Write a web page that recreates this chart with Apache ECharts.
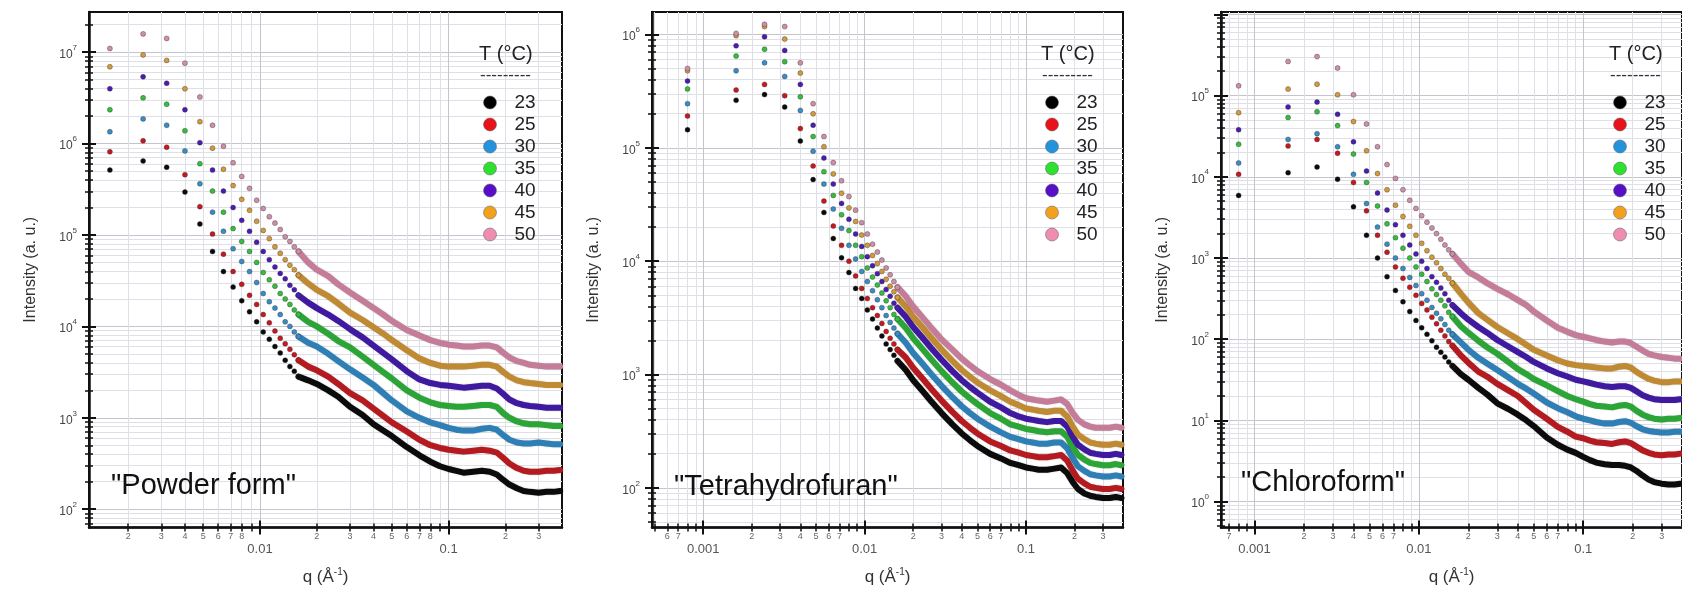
<!DOCTYPE html>
<html><head><meta charset="utf-8">
<script src="https://cdn.jsdelivr.net/npm/echarts@6/dist/echarts.min.js"></script>
<style>html,body{margin:0;padding:0;background:#fff}#c{width:1682px;height:591px}</style>
</head><body><div id="c"></div><script>
const FONT = '"Liberation Sans", Arial, Helvetica, sans-serif';
const temps = ['23','25','30','35','40','45','50'];
const legendColors = ['#000000','#e8121b','#2394dc','#2fe02f','#560fc6','#f2a11e','#ee8db0'];
const pointColors  = ['#0a0a0a','#c8171d','#3a8cc6','#34bd3e','#4a1bb5','#d39a3a','#cf8ea8'];
const bandColors   = ['#0b0b0b','#b41a1f','#2d7fb5','#2ba536','#3f199f','#c08a33','#c47c98'];

// q values (1/Å)
const qLow1  = [0.0016,0.0024,0.0032,0.0040,0.0048,0.0056,0.0064,0.0072,0.0080,0.0088,0.0096,0.0104,0.0112,0.0120,0.0128,0.0136,0.0144,0.0152,0.0160];
const qLow23 = [0.0008,0.0016,0.0024,0.0032,0.0040,0.0048,0.0056,0.0064,0.0072,0.0080,0.0088,0.0096,0.0104,0.0112,0.0120,0.0128,0.0136,0.0144,0.0152,0.0160];
const qBand  = [0.016,0.018,0.02,0.023,0.026,0.03,0.035,0.04,0.045,0.05,0.06,0.07,0.08,0.09,0.1,0.11,0.12,0.135,0.15,0.165,0.18,0.195,0.21,0.23,0.25,0.27,0.3,0.33,0.36,0.39];

// Intensities, stored as log10(I)
// Panel 1: powder form
const p1Low23 = [5.71,5.81,5.74,5.47,5.12,4.82,4.60,4.43,4.28,4.16,4.05,3.94,3.86,3.78,3.71,3.63,3.56,3.51,3.45];
const p1Low25 = [5.91,6.03,5.96,5.66,5.31,5.01,4.79,4.60,4.46,4.34,4.24,4.13,4.04,3.95,3.87,3.81,3.75,3.69,3.63];
const p1Low30 = [6.13,6.27,6.20,5.92,5.56,5.25,5.04,4.85,4.71,4.60,4.48,4.36,4.27,4.20,4.13,4.05,4.00,3.94,3.89];
const p1Low35 = [6.37,6.50,6.43,6.14,5.78,5.48,5.25,5.07,4.93,4.82,4.70,4.59,4.51,4.44,4.36,4.30,4.24,4.18,4.13];
const p1Low40 = [6.60,6.73,6.66,6.37,6.01,5.71,5.48,5.30,5.16,5.04,4.92,4.82,4.73,4.65,4.58,4.52,4.45,4.40,4.34];
const p1Low45 = [6.84,6.97,6.91,6.60,6.24,5.95,5.72,5.54,5.39,5.27,5.15,5.05,4.96,4.87,4.80,4.73,4.67,4.62,4.56];
const p1Low50 = [7.04,7.20,7.15,6.88,6.51,6.20,5.97,5.79,5.64,5.51,5.38,5.29,5.20,5.13,5.06,4.98,4.93,4.87,4.82];
const p1Band23 = [3.45,3.41,3.37,3.30,3.23,3.12,3.03,2.93,2.86,2.80,2.68,2.59,2.52,2.47,2.44,2.42,2.40,2.41,2.42,2.41,2.38,2.32,2.27,2.23,2.20,2.19,2.18,2.19,2.19,2.20];
const p1Band25 = [3.63,3.56,3.52,3.45,3.37,3.27,3.19,3.10,3.02,2.95,2.85,2.76,2.70,2.67,2.65,2.64,2.63,2.64,2.65,2.64,2.62,2.56,2.50,2.45,2.42,2.41,2.41,2.42,2.42,2.43];
const p1Band30 = [3.89,3.82,3.78,3.70,3.62,3.53,3.44,3.36,3.27,3.19,3.07,3.00,2.95,2.92,2.89,2.87,2.86,2.86,2.88,2.89,2.87,2.81,2.76,2.73,2.72,2.72,2.73,2.72,2.71,2.71];
const p1Band35 = [4.13,4.05,4.00,3.92,3.84,3.77,3.67,3.58,3.50,3.43,3.30,3.22,3.17,3.14,3.13,3.12,3.12,3.13,3.14,3.14,3.12,3.05,3.00,2.96,2.94,2.93,2.93,2.92,2.91,2.91];
const p1Band40 = [4.34,4.26,4.20,4.13,4.06,3.97,3.88,3.79,3.71,3.64,3.51,3.42,3.38,3.36,3.35,3.34,3.33,3.34,3.35,3.35,3.32,3.26,3.20,3.16,3.14,3.13,3.12,3.11,3.11,3.11];
const p1Band45 = [4.56,4.47,4.40,4.33,4.25,4.15,4.07,3.99,3.92,3.85,3.74,3.65,3.60,3.57,3.56,3.56,3.56,3.57,3.58,3.58,3.56,3.50,3.45,3.41,3.39,3.38,3.37,3.36,3.36,3.36];
const p1Band50 = [4.82,4.70,4.62,4.55,4.46,4.37,4.28,4.20,4.13,4.06,3.96,3.90,3.85,3.82,3.80,3.79,3.78,3.78,3.79,3.79,3.77,3.71,3.66,3.62,3.60,3.58,3.57,3.56,3.56,3.56];

// Panel 2: tetrahydrofuran
const p2Low23 = [5.16,5.42,5.47,5.36,5.06,4.72,4.43,4.20,4.03,3.90,3.76,3.67,3.57,3.49,3.41,3.34,3.27,3.22,3.17,3.12];
const p2Low25 = [5.28,5.51,5.56,5.46,5.17,4.84,4.53,4.31,4.14,4.00,3.87,3.76,3.67,3.59,3.52,3.45,3.38,3.32,3.27,3.22];
const p2Low30 = [5.39,5.68,5.75,5.63,5.33,4.97,4.68,4.46,4.29,4.14,4.02,3.91,3.82,3.74,3.66,3.59,3.52,3.46,3.41,3.36];
const p2Low35 = [5.52,5.81,5.87,5.76,5.45,5.10,4.79,4.58,4.41,4.27,4.14,4.04,3.94,3.86,3.79,3.72,3.65,3.59,3.53,3.49];
const p2Low40 = [5.59,5.90,5.98,5.86,5.56,5.20,4.91,4.68,4.51,4.37,4.24,4.13,4.04,3.96,3.89,3.82,3.75,3.69,3.63,3.59];
const p2Low45 = [5.68,5.99,6.07,5.96,5.66,5.30,5.01,4.77,4.60,4.47,4.35,4.23,4.14,4.05,3.98,3.91,3.84,3.78,3.73,3.68];
const p2Low50 = [5.70,6.01,6.09,6.07,5.75,5.39,5.10,4.87,4.71,4.57,4.45,4.34,4.24,4.15,4.08,4.01,3.94,3.88,3.82,3.77];
const p2Band23 = [3.12,3.04,2.95,2.85,2.76,2.66,2.56,2.48,2.42,2.37,2.30,2.26,2.22,2.20,2.18,2.17,2.16,2.16,2.17,2.18,2.13,2.05,1.99,1.95,1.93,1.92,1.91,1.91,1.92,1.91];
const p2Band25 = [3.22,3.15,3.06,2.96,2.87,2.77,2.67,2.59,2.53,2.48,2.41,2.37,2.33,2.31,2.29,2.28,2.27,2.27,2.28,2.29,2.24,2.15,2.08,2.04,2.01,2.00,1.99,1.99,2.00,1.99];
const p2Band30 = [3.36,3.28,3.19,3.09,3.00,2.90,2.80,2.72,2.66,2.61,2.54,2.49,2.45,2.43,2.41,2.40,2.39,2.39,2.40,2.40,2.35,2.26,2.19,2.15,2.12,2.11,2.10,2.10,2.11,2.10];
const p2Band35 = [3.49,3.41,3.32,3.22,3.13,3.03,2.93,2.85,2.79,2.74,2.66,2.61,2.56,2.54,2.52,2.51,2.50,2.49,2.50,2.50,2.45,2.36,2.29,2.25,2.22,2.21,2.20,2.20,2.21,2.20];
const p2Band40 = [3.59,3.51,3.42,3.32,3.23,3.13,3.03,2.95,2.89,2.84,2.76,2.71,2.66,2.63,2.61,2.60,2.59,2.58,2.59,2.59,2.54,2.45,2.38,2.34,2.31,2.30,2.29,2.29,2.30,2.29];
const p2Band45 = [3.68,3.60,3.51,3.41,3.32,3.22,3.12,3.04,2.98,2.93,2.86,2.81,2.76,2.73,2.70,2.69,2.68,2.67,2.68,2.68,2.63,2.54,2.47,2.43,2.40,2.39,2.38,2.38,2.39,2.38];
const p2Band50 = [3.77,3.69,3.60,3.50,3.41,3.31,3.22,3.14,3.08,3.03,2.96,2.91,2.86,2.82,2.79,2.78,2.77,2.76,2.77,2.78,2.74,2.66,2.60,2.56,2.54,2.53,2.53,2.53,2.54,2.53];

// Panel 3: chloroform
const p3Low23 = [3.77,4.05,4.12,3.97,3.63,3.28,3.00,2.77,2.60,2.46,2.34,2.23,2.14,2.06,1.98,1.90,1.84,1.78,1.72,1.67];
const p3Low25 = [4.03,4.38,4.46,4.29,3.93,3.58,3.28,3.07,2.89,2.75,2.64,2.54,2.44,2.36,2.27,2.19,2.11,2.04,1.97,1.92];
const p3Low30 = [4.17,4.46,4.53,4.37,4.03,3.67,3.38,3.17,3.00,2.87,2.76,2.66,2.56,2.48,2.39,2.32,2.25,2.18,2.11,2.06];
const p3Low35 = [4.40,4.73,4.80,4.63,4.28,3.93,3.64,3.42,3.25,3.12,3.00,2.89,2.80,2.71,2.62,2.55,2.48,2.41,2.33,2.28];
const p3Low40 = [4.58,4.86,4.92,4.77,4.43,4.07,3.80,3.59,3.41,3.28,3.16,3.05,2.96,2.87,2.77,2.70,2.63,2.56,2.48,2.42];
const p3Low45 = [4.79,5.08,5.14,5.01,4.68,4.32,4.04,3.84,3.65,3.51,3.39,3.28,3.18,3.09,3.01,2.94,2.87,2.80,2.75,2.69];
const p3Low50 = [5.12,5.42,5.48,5.34,5.01,4.65,4.37,4.15,3.98,3.84,3.71,3.61,3.52,3.44,3.37,3.30,3.23,3.16,3.10,3.05];
const p3Band23 = [1.67,1.57,1.50,1.40,1.32,1.21,1.14,1.07,1.00,0.93,0.79,0.70,0.64,0.60,0.55,0.51,0.48,0.46,0.45,0.45,0.44,0.42,0.38,0.32,0.27,0.24,0.22,0.21,0.21,0.22];
const p3Band25 = [1.92,1.80,1.71,1.60,1.54,1.45,1.37,1.30,1.21,1.13,1.02,0.92,0.86,0.80,0.78,0.75,0.73,0.72,0.71,0.73,0.74,0.72,0.68,0.63,0.60,0.58,0.57,0.58,0.58,0.59];
const p3Band30 = [2.06,1.96,1.87,1.77,1.70,1.62,1.53,1.45,1.39,1.33,1.22,1.15,1.10,1.05,1.02,1.00,0.98,0.96,0.96,0.98,0.99,0.97,0.93,0.89,0.87,0.86,0.85,0.85,0.86,0.86];
const p3Band35 = [2.28,2.16,2.08,1.98,1.90,1.82,1.72,1.63,1.57,1.51,1.43,1.36,1.30,1.26,1.23,1.20,1.18,1.17,1.16,1.18,1.19,1.17,1.12,1.07,1.04,1.02,1.01,1.02,1.02,1.03];
const p3Band40 = [2.42,2.32,2.24,2.15,2.08,1.99,1.91,1.84,1.78,1.72,1.64,1.58,1.54,1.50,1.48,1.46,1.44,1.42,1.41,1.42,1.42,1.40,1.36,1.31,1.28,1.26,1.25,1.25,1.25,1.26];
const p3Band45 = [2.69,2.56,2.45,2.32,2.24,2.15,2.07,2.00,1.93,1.87,1.80,1.74,1.70,1.68,1.67,1.66,1.65,1.64,1.64,1.66,1.67,1.65,1.60,1.55,1.51,1.49,1.47,1.47,1.48,1.48];
const p3Band50 = [3.05,2.93,2.83,2.76,2.69,2.62,2.55,2.48,2.42,2.34,2.23,2.14,2.09,2.05,2.03,2.01,1.99,1.97,1.96,1.97,1.97,1.95,1.91,1.86,1.82,1.80,1.78,1.77,1.76,1.76];

// Tick labels
const xMajorLabels1 = [0.01, 0.1];
const xMajorLabels23 = [0.001, 0.01, 0.1];
const xMinorLabels1 = [0.002,0.003,0.004,0.005,0.006,0.007,0.008,0.02,0.03,0.04,0.05,0.06,0.07,0.08,0.2,0.3];
const xMinorLabels2 = [0.0006,0.0007,0.002,0.003,0.004,0.005,0.006,0.007,0.02,0.03,0.04,0.05,0.06,0.07,0.2,0.3];
const xMinorLabels3 = [0.0007,0.002,0.003,0.004,0.005,0.006,0.007,0.02,0.03,0.04,0.05,0.06,0.07,0.2,0.3];
const yMajorLabels1 = [1e2,1e3,1e4,1e5,1e6,1e7];
const yMajorLabels2 = [1e2,1e3,1e4,1e5,1e6];
const yMajorLabels3 = [1e0,1e1,1e2,1e3,1e4,1e5];
const panelTitles = ['"Powder form"','"Tetrahydrofuran"','"Chloroform"'];

// Axis ranges
const xRange = [[0.00124,0.399],[0.000482,0.399],[0.000625,0.399]];
const yRange = [[63.1,2.75e7],[44.7,1.58e6],[0.479,1.07e6]];

// Layout (px)
const gridBox = [
  {left:89, top:12, width:473, height:516},
  {left:652, top:12, width:471, height:516},
  {left:1221, top:12, width:471, height:516}
];

function decadeTicks(min,max){const o=[];for(let e=-6;e<=9;e++){const v=+Math.pow(10,e).toPrecision(2);if(v>=min&&v<=max)o.push(v);}return o;}
function minorTicks(min,max){const o=[];for(let e=-6;e<=9;e++){for(let m=2;m<=9;m++){const v=+(m*Math.pow(10,e)).toPrecision(3);if(v>=min&&v<=max)o.push(v);}}return o;}
const fmtMajorQ = v => String(+(+v).toPrecision(1));
const fmtDigit = v => { const e = Math.floor(Math.log10(v) + 1e-9); return String(Math.round(v / Math.pow(10, e))); };
const fmtPow = v => '{b|10}{s|' + Math.round(Math.log10(v)) + '}';

const xAxes = [], yAxes = [];
const xMinorLabelSets = [xMinorLabels1, xMinorLabels2, xMinorLabels3];
const xMajorLabelSets = [xMajorLabels1, xMajorLabels23, xMajorLabels23];
const yMajorLabelSets = [yMajorLabels1, yMajorLabels2, yMajorLabels3];

for (let p = 0; p < 3; p++) {
  const [xmin, xmax] = xRange[p], [ymin, ymax] = yRange[p];
  const xMaj = decadeTicks(xmin, xmax), xMin = minorTicks(xmin, xmax);
  const yMaj = decadeTicks(ymin, ymax), yMin = minorTicks(ymin, ymax);
  const bx = {type:'log', logBase:10, gridIndex:p, min:xmin, max:xmax, position:'bottom',
    axisLine:{show:false}, axisTick:{show:false}, axisLabel:{show:false}, splitLine:{show:false}};
  const by = {type:'log', logBase:10, gridIndex:p, min:ymin, max:ymax, position:'left',
    axisLine:{show:false}, axisTick:{show:false}, axisLabel:{show:false}, splitLine:{show:false}};
  const tickMaj = {color:'#111', width:2};
  const tickMin = {color:'#111', width:1.5};
  xAxes.push(
    Object.assign({}, bx, {
      axisTick:{show:true, customValues:xMin, length:4, lineStyle:tickMin},
      axisLabel:{show:true, customValues:xMinorLabelSets[p], margin:5, fontSize:9, color:'#666', fontFamily:FONT, formatter:fmtDigit},
      splitLine:{show:true, lineStyle:{color:'#dfdfe8', width:1}}
    }),
    Object.assign({}, bx, {axisTick:{show:true, inside:true, customValues:xMin, length:4, lineStyle:tickMin}}),
    Object.assign({}, bx, {
      axisLine:{show:true, lineStyle:{color:'#111', width:2.5}},
      axisTick:{show:true, customValues:xMaj, length:7, lineStyle:tickMaj},
      axisLabel:{show:true, customValues:xMajorLabelSets[p], margin:15, fontSize:13, color:'#555', fontFamily:FONT, formatter:fmtMajorQ},
      splitLine:{show:true, lineStyle:{color:'#c4c4cc', width:1}},
      name:'q (Å{s|-1})', nameLocation:'middle', nameGap:40,
      nameTextStyle:{fontSize:17, color:'#333', fontFamily:FONT, rich:{s:{fontSize:10, color:'#333', verticalAlign:'top', lineHeight:20, fontFamily:FONT}}}
    }),
    Object.assign({}, bx, {axisTick:{show:true, inside:true, customValues:xMaj, length:7, lineStyle:tickMaj}})
  );
  yAxes.push(
    Object.assign({}, by, {
      axisTick:{show:true, customValues:yMin, length:4, lineStyle:tickMin},
      splitLine:{show:true, lineStyle:{color:'#dfdfe8', width:1}}
    }),
    Object.assign({}, by, {axisTick:{show:true, inside:true, customValues:yMin, length:4, lineStyle:tickMin}}),
    Object.assign({}, by, {
      axisLine:{show:true, lineStyle:{color:'#111', width:2.5}},
      axisTick:{show:true, customValues:yMaj, length:7, lineStyle:tickMaj},
      axisLabel:{show:true, customValues:yMajorLabelSets[p], margin:12, formatter:fmtPow,
        rich:{b:{fontSize:12, color:'#444', fontFamily:FONT, verticalAlign:'bottom', lineHeight:17},
              s:{fontSize:8, color:'#444', fontFamily:FONT, verticalAlign:'top', lineHeight:17}}},
      splitLine:{show:true, lineStyle:{color:'#c4c4cc', width:1}},
      name:'Intensity (a. u.)', nameLocation:'middle', nameGap:50,
      nameTextStyle:{fontSize:16, color:'#333', fontFamily:FONT}
    }),
    Object.assign({}, by, {axisTick:{show:true, inside:true, customValues:yMaj, length:7, lineStyle:tickMaj}})
  );
}

const lows = [
  [p1Low23,p1Low25,p1Low30,p1Low35,p1Low40,p1Low45,p1Low50],
  [p2Low23,p2Low25,p2Low30,p2Low35,p2Low40,p2Low45,p2Low50],
  [p3Low23,p3Low25,p3Low30,p3Low35,p3Low40,p3Low45,p3Low50]
];
const bands = [
  [p1Band23,p1Band25,p1Band30,p1Band35,p1Band40,p1Band45,p1Band50],
  [p2Band23,p2Band25,p2Band30,p2Band35,p2Band40,p2Band45,p2Band50],
  [p3Band23,p3Band25,p3Band30,p3Band35,p3Band40,p3Band45,p3Band50]
];
const qLows = [qLow1, qLow23, qLow23];

const series = [];
for (let p = 0; p < 3; p++) {
  temps.forEach((t, i) => {
    const ax = p * 4 + 2;
    series.push({
      type:'line', name:t + ' band', xAxisIndex:ax, yAxisIndex:ax, silent:true,
      data: qBand.map((q, k) => [q, Math.pow(10, bands[p][i][k])]),
      showSymbol:false, symbol:'none', clip:true, z:2,
      lineStyle:{color:bandColors[i], width:6, cap:'round', join:'round',
        shadowColor:'rgba(0,0,0,0.25)', shadowBlur:1.5}
    });
    series.push({
      type:'scatter', name:t, xAxisIndex:ax, yAxisIndex:ax, silent:true,
      data: qLows[p].map((q, k) => [q, Math.pow(10, lows[p][i][k])]),
      symbol:'circle', symbolSize:5, clip:true, z:3,
      itemStyle:{color:pointColors[i], borderColor:'rgba(50,50,50,0.55)', borderWidth:0.7, opacity:1}
    });
  });
}

const legendLeft = [478, 1040, 1608];
const legends = legendLeft.map(l => ({
  orient:'vertical', left:l, top:88, itemWidth:13, itemHeight:13, itemGap:3, icon:'circle',
  selectedMode:false,
  textStyle:{fontSize:19, color:'#222', fontFamily:FONT, padding:[0,0,0,13], lineHeight:19},
  data: temps.map((t, i) => ({name:t, itemStyle:{color:legendColors[i], borderColor:'rgba(90,90,90,0.5)', borderWidth:1}}))
}));

const graphics = [];
const titlePos = [[111,471],[674,472],[1241,468]];
panelTitles.forEach((txt, p) => {
  graphics.push({type:'text', left:titlePos[p][0], top:titlePos[p][1], z:100,
    style:{text:txt, fontSize:29, fontFamily:FONT, fill:'#111'}});
  graphics.push({type:'text', left:legendLeft[p] + 1, top:44, z:100,
    style:{text:'T (°C)', fontSize:20, fontFamily:FONT, fill:'#222'}});
  graphics.push({type:'text', left:legendLeft[p] + 2, top:67, z:100,
    style:{text:'---------', fontSize:17, fontFamily:FONT, fill:'#333'}});
});

const chart = echarts.init(document.getElementById('c'), null, {renderer:'canvas'});
chart.setOption({
  animation:false,
  backgroundColor:'#ffffff',
  textStyle:{fontFamily:FONT},
  grid: gridBox.map(g => Object.assign({}, g, {show:true, borderColor:'#111', borderWidth:2, backgroundColor:'#fff', containLabel:false})),
  xAxis: xAxes,
  yAxis: yAxes,
  legend: legends,
  graphic: graphics,
  series: series
});
</script></body></html>
